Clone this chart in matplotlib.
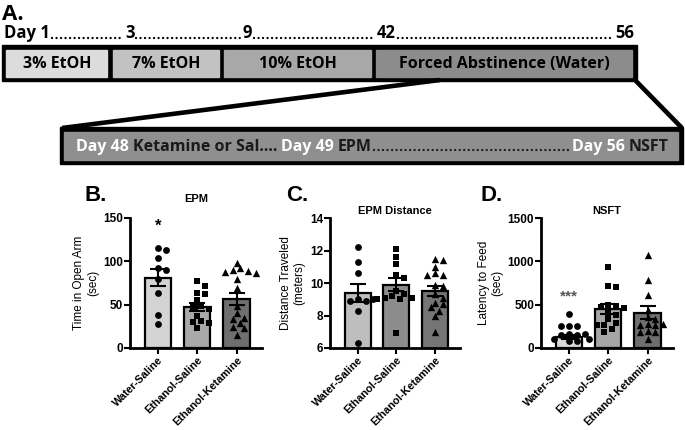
import numpy as np
import matplotlib
matplotlib.use("Agg")
import matplotlib.pyplot as plt
from matplotlib.patches import Rectangle

# ---- data ----
groups = ['Water-Saline', 'Ethanol-Saline', 'Ethanol-Ketamine']

epm_water = [115, 113, 104, 92, 90, 80, 64, 38, 28]
epm_etoh_sal = [77, 72, 64, 62, 55, 49, 47, 45, 37, 31, 30, 29, 23]
epm_etoh_ket = [98, 92, 90, 89, 88, 87, 80, 69, 48, 40, 35, 34, 29, 24, 23, 15]
epm_mean = [81, 47.7, 56.5]
epm_sem = [10, 4.8, 7]

dist_water = [12.2, 11.3, 10.6, 9.0, 8.9, 8.9, 9.0, 8.3, 6.3]
dist_etoh_sal = [12.1, 11.6, 11.2, 10.5, 10.3, 9.5, 9.3, 9.2, 9.1, 9.1, 9.0, 9.0, 6.9]
dist_etoh_ket = [11.5, 11.4, 11.0, 10.6, 10.5, 10.5, 9.9, 9.8, 9.3, 9.1, 8.8, 8.7,
                 8.5, 8.3, 8.0, 7.0]
dist_mean = [9.4, 9.9, 9.5]
dist_sem = [0.55, 0.4, 0.3]

nsft_water = [390, 250, 250, 250, 160, 150, 150, 160, 100, 80, 80, 100]
nsft_etoh_sal = [940, 720, 700, 500, 490, 470, 460, 400, 380, 330, 290, 270, 270, 220, 190]
nsft_etoh_ket = [1075, 790, 610, 440, 360, 330, 280, 270, 260, 280, 200, 190, 180, 100]
nsft_mean = [127, 450, 404]
nsft_sem = [25, 60, 75]

top_days = ['Day 1', '3', '9', '42', '56']
stages = ['3% EtOH', '7% EtOH', '10% EtOH', 'Forced Abstinence (Water)']
stage_colors = ['#dcdcdc', '#c2c2c2', '#a8a8a8', '#8c8c8c']

W, H = 685, 430
fig = plt.figure(figsize=(W / 100, H / 100), dpi=100)
plt.rcParams['font.family'] = ['Liberation Sans', 'DejaVu Sans']

# ---------- panel A: timeline (pixel coordinates, y downwards) ----------
ax0 = fig.add_axes([0, 0, 1, 1])
ax0.set_xlim(0, W)
ax0.set_ylim(H, 0)
ax0.axis('off')
r = fig.canvas.get_renderer()
inv = ax0.transData.inverted()

tfont = dict(family=['Open Sans', 'DejaVu Sans'], fontweight='bold')

ax0.text(2, 20, 'A.', fontsize=16, va='baseline', **tfont)

# day labels with dotted fillers
day_x = [4, 125, 243, 377, 634]
ends = []
for i, lab in enumerate(top_days):
    ha = 'right' if i == len(top_days) - 1 else 'left'
    t = ax0.text(day_x[i], 38.5, lab, fontsize=12, ha=ha, va='baseline', **tfont)
    bb = t.get_window_extent(r)
    ends.append((inv.transform((bb.x0, bb.y0))[0], inv.transform((bb.x1, bb.y0))[0]))
for i in range(len(ends) - 1):
    ax0.plot([ends[i][1] + 2, ends[i + 1][0] - 2], [37.5, 37.5], color='black', lw=1.7,
             linestyle=(0, (0.01, 1.9)), dash_capstyle='round')

# stage bar
ax0.add_patch(Rectangle((2, 45), 635, 36, color='black'))
seg = [(6.5, 107.5), (113, 219), (224, 371), (376, 632.5)]
for (a, b), lab, c in zip(seg, stages, stage_colors):
    ax0.add_patch(Rectangle((a, 49.5), b - a, 27, color=c))
    ax0.text((a + b) / 2, 63.5, lab, fontsize=11.5, ha='center', va='center', **tfont)

# zoom lines
ax0.plot([440, 62], [80, 128], color='black', lw=3.3, solid_capstyle='butt')
ax0.plot([635, 682], [80, 128], color='black', lw=3.3, solid_capstyle='butt')

# lower box
ax0.add_patch(Rectangle((60, 127), 623, 37, color='black'))
ax0.add_patch(Rectangle((64.5, 131.5), 614, 28, color='#8f8f8f'))

x = 76
for s, c in [('Day 48', 'white'), ('Ketamine or Sal....', '#1a1a1a'),
             ('Day 49', 'white'), ('EPM', '#1a1a1a')]:
    t = ax0.text(x, 151, s, fontsize=11.5, color=c, va='baseline', **tfont)
    bb = t.get_window_extent(r)
    x = inv.transform((bb.x1, bb.y0))[0] + 4
epm_end = x - 3
t = ax0.text(669, 151, 'NSFT', fontsize=11.5, color='#1a1a1a', ha='right', va='baseline', **tfont)
bb = t.get_window_extent(r)
x1 = inv.transform((bb.x0, bb.y0))[0] - 4
t = ax0.text(x1, 151, 'Day 56', fontsize=11.5, color='white', ha='right', va='baseline', **tfont)
bb = t.get_window_extent(r)
x1 = inv.transform((bb.x0, bb.y0))[0]
ax0.plot([epm_end + 1, x1 - 2], [150, 150], color='#1a1a1a', lw=1.7,
         linestyle=(0, (0.01, 1.9)), dash_capstyle='round')


# ---------- panels B-D ----------
def swarm(vals, ypx, xpx, d=6.5):
    placed = []
    offs = []
    for v in vals:
        y = v * ypx
        for k in [0, 1, -1, 2, -2, 3, -3, 4, -4, 5, -5]:
            xx = k * d * 0.6
            if all((xx - px) ** 2 + (y - py) ** 2 >= d * d * 0.85 for px, py in placed):
                break
        placed.append((xx, y))
        offs.append(xx / xpx)
    return np.array(offs)


def panel(left_px, width_px, pts, means, sems, ylim, yticks, ylabel, title, title_y,
          colors, letter, letter_x):
    top_px, bot_px = 218, 348
    ax = fig.add_axes([left_px / W, 1 - bot_px / H, width_px / W, (bot_px - top_px) / H])
    xlim = (-0.72, 2.65)
    xs = np.arange(3)
    ax.bar(xs, means, width=0.67, color=colors, edgecolor='black', linewidth=1.6, zorder=1)
    ypx = (bot_px - top_px) / (ylim[1] - ylim[0])
    xpx = width_px / (xlim[1] - xlim[0])
    for i, (vals, m, sz) in enumerate(zip(pts, ['o', 's', '^'], [24, 22, 28])):
        vals = np.array(vals, dtype=float)
        offs = swarm(vals - ylim[0], ypx, xpx)
        ax.scatter(i + offs, vals, marker=m, s=sz, color='black', linewidths=0, zorder=3)
    ax.errorbar(xs, means, yerr=sems, fmt='none', ecolor='black', elinewidth=1.5,
                capsize=6, capthick=1.5, zorder=4)
    ax.set_xlim(*xlim)
    ax.set_ylim(*ylim)
    ax.set_yticks(yticks)
    ax.set_xticks(xs)
    ax.set_xticklabels(groups, rotation=45, ha='right', rotation_mode='anchor',
                       fontsize=7.8, fontweight='bold')
    for lab in ax.get_yticklabels():
        lab.set_fontweight('bold')
        lab.set_fontsize(8.5)
    for s in ['top', 'right']:
        ax.spines[s].set_visible(False)
    for s in ['left', 'bottom']:
        ax.spines[s].set_linewidth(2)
    ax.tick_params(direction='out', length=4, width=1.5, pad=1)
    ax.set_ylabel(ylabel, fontsize=8.5, labelpad=3)
    fig.text((left_px + width_px / 2) / W, 1 - title_y / H, title, ha='center', va='center',
             fontsize=8, fontweight='bold')
    fig.text(letter_x / W, 1 - 185 / H, letter, ha='left', va='top', fontsize=16,
             fontweight='bold')
    return ax


axB = panel(130, 132, [epm_water, epm_etoh_sal, epm_etoh_ket], epm_mean, epm_sem,
            (0, 150), [0, 50, 100, 150], 'Time in Open Arm\n(sec)', 'EPM', 199,
            ['#d4d4d4', '#a9a9a9', '#6f6f6f'], 'B.', 84)
axB.text(0, 140, '*', ha='center', va='center', fontsize=12, fontweight='bold')

axC = panel(330, 130, [dist_water, dist_etoh_sal, dist_etoh_ket], dist_mean, dist_sem,
            (6, 14), [6, 8, 10, 12, 14], 'Distance Traveled\n(meters)', 'EPM Distance', 211,
            ['#bebebe', '#8c8c8c', '#757575'], 'C.', 286)

axD = panel(541, 132, [nsft_water, nsft_etoh_sal, nsft_etoh_ket], nsft_mean, nsft_sem,
            (0, 1500), [0, 500, 1000, 1500], 'Latency to Feed\n(sec)', 'NSFT', 211,
            ['#d9d9d9', '#a6a6a6', '#6e6e6e'], 'D.', 481)
axD.text(0, 600, '***', ha='center', va='center', fontsize=11, fontweight='bold', color='#555555')

fig.savefig('out.png', dpi=100)
